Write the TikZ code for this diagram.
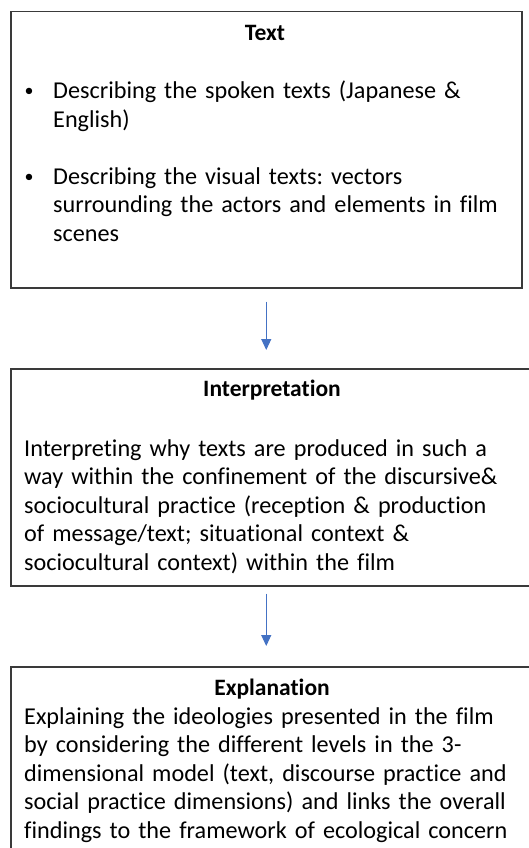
\documentclass[tikz,border=0pt]{standalone}
\usepackage{fontspec}
\setmainfont{Carlito}[Ligatures=NoCommon]
\usepackage{tikz}
\usetikzlibrary{arrows.meta,positioning}
\frenchspacing

\definecolor{arrowblue}{HTML}{4472C4}
\definecolor{boxline}{HTML}{3A3A3A}

\tikzset{
  stage/.style={draw=boxline, line width=1.5pt, anchor=north west, inner sep=0pt},
  head/.style={font=\fontsize{23.5}{28.5}\selectfont\bfseries, anchor=base, inner sep=0pt},
  body/.style={font=\fontsize{24.2}{28.5}\selectfont, align=left, anchor=base west, inner sep=0pt, text width=520pt},
  flow/.style={draw=arrowblue, line width=1.1pt, -{Triangle[length=11pt,width=10pt]}}
}

\begin{document}
\begin{tikzpicture}[x=1pt,y=-1pt]
  \useasboundingbox (0,0) rectangle (529,848);

  % the three stages
  \node[stage, minimum width=511pt, minimum height=276pt] (textbox) at (10,11) {};
  \node[stage, minimum width=530pt, minimum height=217pt] (interpbox) at (10,368) {};
  \node[stage, minimum width=530pt, minimum height=220pt] (explbox) at (10,666) {};

  % stage 1
  \node[head] (texthead) at (265,41) {Text};
  \node[body, anchor=base, text width=, font=\fontsize{18}{20}\selectfont] (dotone) at (29,97) {\textbullet};
  \node[body] (textone) at (53,99) {Describing the spoken texts (Japanese \&\\English)};
  \node[body, anchor=base, text width=, font=\fontsize{18}{20}\selectfont] (dottwo) at (29,182) {\textbullet};
  \node[body] (texttwo) at (53,184) {Describing the visual texts: vectors\\
    surrounding the actors and elements in film\\scenes};

  % stage 2
  \node[head] (interphead) at (272,396) {Interpretation};
  \node[body] (interpbody) at (24,456) {Interpreting why texts are produced in such a\\
    way within the confinement of the discursive\&\\
    sociocultural practice (reception \& production\\
    of message/text; situational context \&\\
    sociocultural context) within the film};

  % stage 3
  \node[head] (explhead) at (272,695) {Explanation};
  \node[body] (explbody) at (24,724) {Explaining the ideologies presented in the film\\
    by considering the different levels in the 3-\\
    dimensional model (text, discourse practice and\\
    social practice dimensions) and links the overall\\
    findings to the framework of ecological concern};

  % arrows
  \draw[flow, shorten <=13pt, shorten >=18pt] (textbox.south) -- (textbox.south |- interpbox.north);
  \draw[flow, shorten <=7pt, shorten >=20pt] (interpbox.south -| textbox.south) -- (textbox.south |- explbox.north);
\end{tikzpicture}
\end{document}
